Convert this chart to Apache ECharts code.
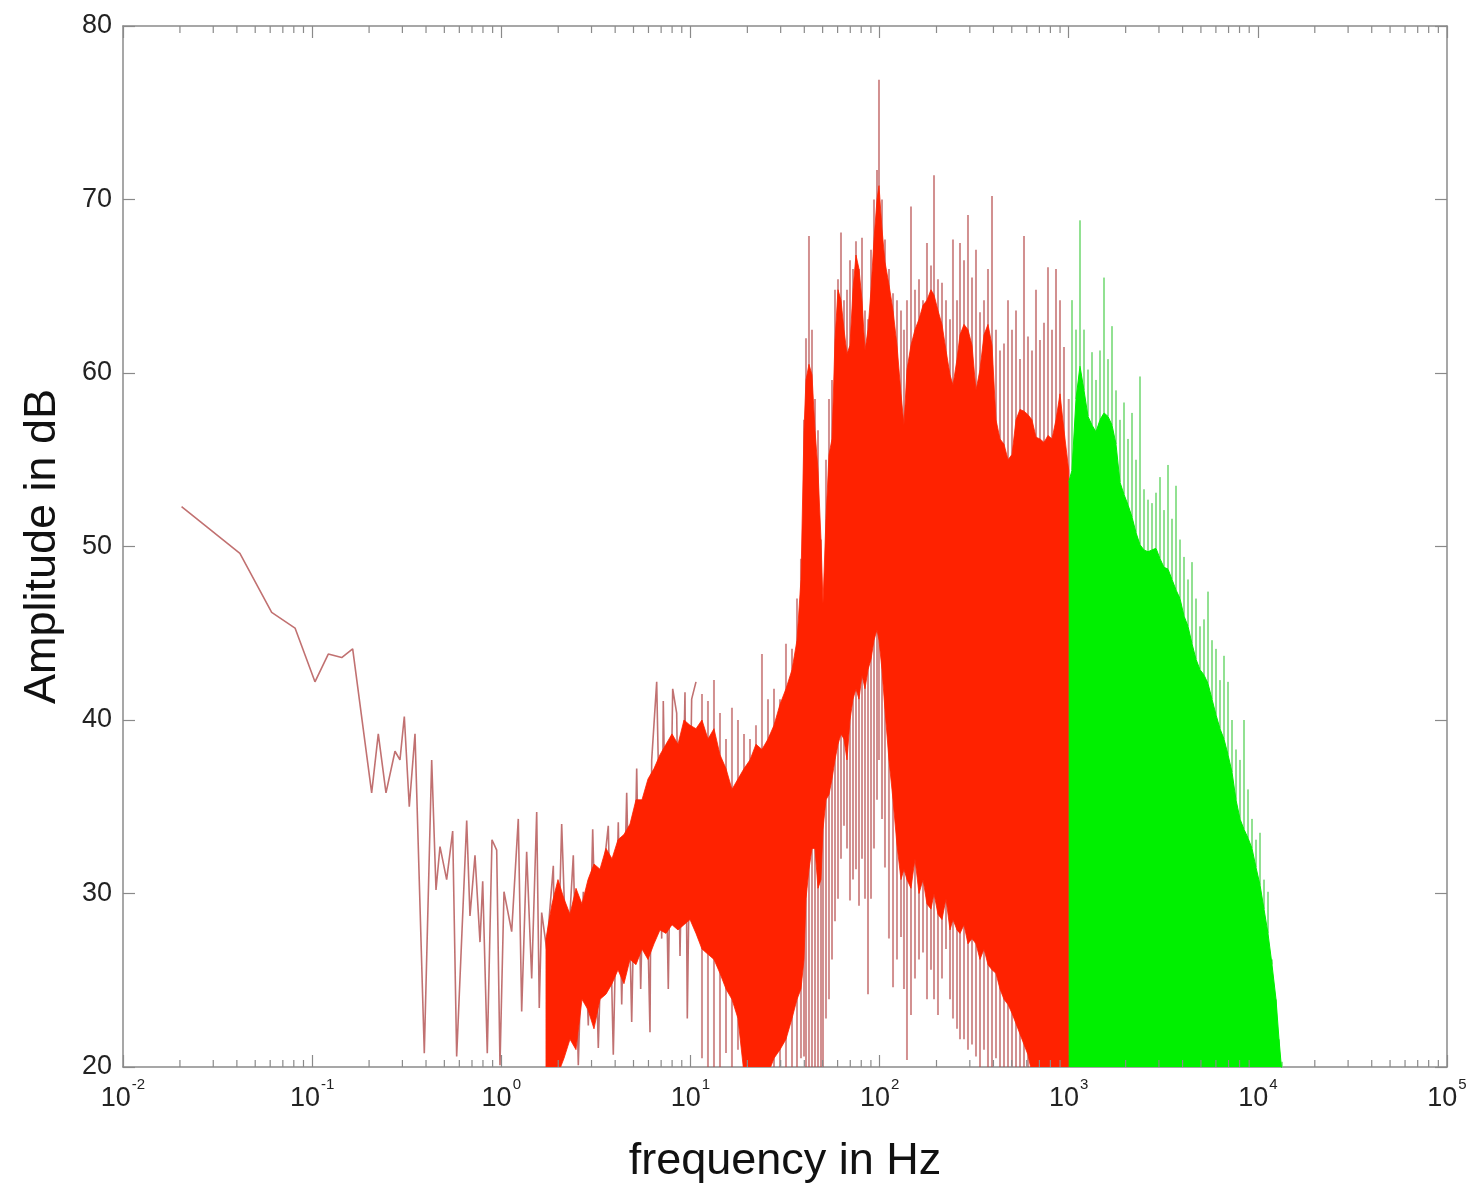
<!DOCTYPE html>
<html><head><meta charset="utf-8">
<script src="https://cdn.jsdelivr.net/npm/echarts@6/dist/echarts.min.js"></script>
<style>html,body{margin:0;padding:0;background:#fff}#chart{width:1476px;height:1189px}</style>
</head><body><div id="chart"></div>
<script>
// ---- data (frequency in Hz, amplitude in dB) ----
const lowFreq = [0.0204,0.0415,0.0611,0.0812,0.1035,0.1217,0.1433,0.1638,0.2064,0.2237,0.2457,0.2742,0.2913,0.3071,0.3263,0.3498,0.3917,0.4286,0.4517,0.4742,0.5143,0.5534,0.5809,0.6564,0.6831,0.7261,0.7717,0.7975,0.8433,0.8929,0.9456,0.9843,1.0335,1.135,1.230,1.282,1.362,1.448,1.539,1.588,1.635,1.738,1.884,1.946,2.086,2.217,2.403,2.554,2.714,2.884,3.043,3.258,3.462,3.679,3.910,4.155,4.332,4.603,4.892,5.199,5.458,5.752,6.113,6.241,6.632,7.048,7.186,7.637,8.058,8.459,8.807,9.360,9.626,10.15,10.70];
const lowDb = [52.3,49.6,46.2,45.3,42.2,43.8,43.6,44.1,35.8,39.2,35.8,38.2,37.7,40.2,35.0,39.2,20.8,37.7,30.2,32.7,30.8,33.6,20.6,34.2,28.7,32.2,27.2,30.7,20.8,33.1,32.5,20.1,30.1,27.8,34.3,23.2,32.4,25.1,34.7,23.4,28.9,26.8,31.6,21.4,34.0,25.5,32.2,20.1,30.1,22.4,33.7,21.1,31.2,33.9,20.7,34.1,23.6,35.8,22.6,37.2,24.5,35.5,22.0,37.7,42.2,27.4,41.1,24.5,41.8,40.4,26.4,41.6,22.8,41.2,42.2];

const coreFreq = [1.723,1.854,1.994,2.145,2.308,2.483,2.671,2.874,3.091,3.325,3.578,3.849,4.140,4.453,4.791,5.155,5.545,5.965,6.417,6.904,7.427,7.989,8.594,9.247,9.947,10.70,
11.51,12.38,13.32,14.33,15.42,16.58,17.84,19.20,20.65,22.21,23.89,25.71,27.66,29.75,32.00,34.44,36.59,
38.41,39.85,40.83,42.34,43.92,45.56,47.25,49.01,50.22,52.08,54.02,56.04,58.12,60.28,62.52,64.85,67.27,69.76,72.36,75.04,77.85,80.74,83.73,86.86,90.10,93.43,96.92,99.29,
103.0,106.8,112.1,117.8,123.6,129.8,134.6,139.6,146.6,153.9,161.6,169.7,178.1,187.0,194.0,203.6,213.8,224.5,235.7,244.4,256.7,266.2,279.5,293.4,308.1,323.4,339.6,356.5,374.3,393.0,412.6,433.2,454.8,477.5,501.3,526.4,552.6,580.2,609.1,639.5,671.4,704.9,740.1,777.0,815.9,856.6,899.2,944.1,1000];
const coreTop = [27.4,29.4,30.8,29.7,28.8,30.3,29.4,30.8,31.7,31.4,32.6,32.0,33.1,33.4,34.0,35.4,35.4,36.6,37.2,38.0,38.6,39.2,38.6,40.0,39.7,39.5,
40.0,38.9,39.5,38.0,37.2,36.0,36.6,37.2,37.7,38.6,38.3,38.9,39.7,40.9,41.8,42.9,44.6,
48.1,56.7,59.6,60.5,59.9,56.7,54.4,50.4,46.7,51.6,55.3,56.2,61.9,64.8,64.2,62.5,61.1,61.6,64.8,66.8,66.0,64.2,61.3,62.5,64.8,67.7,70.0,70.8,
68.3,66.4,65.1,63.6,61.6,58.8,57.0,60.2,61.6,62.5,63.1,63.9,64.2,64.8,64.5,63.6,62.8,61.3,59.9,59.3,60.8,62.2,62.8,62.5,61.6,59.0,60.2,62.2,62.8,61.6,57.3,56.2,55.9,55.0,55.3,57.3,57.9,57.8,57.6,57.3,56.3,56.2,56.0,56.4,56.2,57.3,58.8,56.7,54.4];
const coreBottom = [19.6,19.6,19.6,20.5,21.6,21.0,23.9,23.3,22.2,23.9,24.2,24.8,25.6,24.8,26.2,25.9,26.8,26.2,27.1,27.9,27.7,28.2,27.9,28.2,28.5,27.7,
26.8,26.5,26.2,25.4,24.5,23.9,22.8,19.6,19.6,19.6,19.6,19.6,20.5,21.0,21.6,22.8,23.9,
24.5,26.2,29.7,31.4,32.6,32.6,30.3,30.8,33.7,35.4,35.7,36.6,37.7,38.6,39.2,38.9,37.7,40.0,41.2,41.8,41.2,42.6,41.8,42.9,43.5,44.6,45.2,44.6,
42.9,40.6,37.7,35.4,32.8,30.8,31.4,30.8,30.3,32.0,30.0,30.8,29.4,29.1,30.0,28.8,28.5,29.7,27.9,28.5,27.9,27.7,28.2,27.1,27.4,27.1,26.2,26.8,25.9,25.6,25.4,24.5,23.9,23.6,23.1,22.5,21.9,21.3,20.7,19.6,19.6,19.6,19.6,19.6,19.6,19.6,19.6,19.6,19.6];

const spikeFreq = [11.51,12.38,13.32,14.33,15.42,16.58,17.84,19.20,20.65,22.21,23.89,25.71,27.66,29.75,32.00,34.44,36.59,
38.41,39.85,40.83,42.34,43.92,45.56,47.25,49.01,50.22,52.08,54.02,56.04,58.12,60.28,62.52,64.85,67.27,69.76,72.36,75.04,77.85,80.74,83.73,86.86,90.10,93.43,96.92,99.29,
103.0,106.8,112.1,117.8,123.6,129.8,134.6,139.6,146.6,153.9,161.6,169.7,178.1,187.0,194.0,203.6,213.8,224.5,235.7,244.4,256.7,266.2,279.5,293.4,308.1,323.4,339.6,356.5,374.3,393.0,412.6,433.2,454.8,477.5,501.3,526.4,552.6,580.2,609.1,639.5,671.4,704.9,740.1,777.0,815.9,856.6,899.2,944.1,1000];
const spikeHigh = [41.5,41.1,42.3,40.4,38.9,40.7,40.0,39.2,38.9,39.7,43.8,41.2,41.8,41.2,44.4,44.1,47.0,
49.3,57.3,62.0,67.9,62.5,58.5,56.7,50.4,46.7,55.0,58.5,59.6,64.8,65.4,68.1,64.2,64.8,66.5,66.0,67.6,66.0,67.8,63.6,63.1,67.1,70.0,71.7,76.9,
70.0,67.7,66.0,64.6,64.2,63.6,62.5,64.2,69.6,64.8,65.4,64.2,67.5,66.2,71.4,65.4,65.2,64.2,63.1,67.7,64.2,67.5,66.5,69.1,65.5,67.1,63.5,64.2,66.0,70.2,62.5,61.3,61.7,64.2,62.5,63.6,60.8,67.9,62.1,61.3,64.8,61.9,62.9,66.1,62.5,66.0,64.2,61.5,58.5];
const spikeLow = [20.5,19.8,19.8,19.8,20.8,19.8,21.0,19.8,19.8,19.8,19.8,19.8,19.8,19.8,19.8,19.8,19.8,
20.5,20.6,19.8,19.8,19.8,19.8,19.8,19.8,19.8,22.8,23.9,26.2,28.4,29.7,32.0,33.9,32.6,29.6,30.8,31.4,29.3,32.0,29.7,24.2,29.7,32.6,35.4,37.7,
34.3,31.5,27.4,24.6,26.2,27.5,24.5,20.4,23.0,25.1,26.2,26.6,23.9,25.6,23.9,23.0,25.1,26.8,23.9,22.8,22.2,21.6,21.6,21.0,21.3,20.6,19.8,21.0,19.8,19.8,20.5,19.8,19.8,19.8,19.8,19.8,19.8,19.8,19.8,19.8,19.8,19.8,19.8,19.8,19.8,19.8,19.8,19.8,19.8];

const greenFreq = [1000,1040.7,1092.7,1147.2,1204.5,1264.5,1327.6,1393.9,1463.5,1536.6,1613.2,1693.6,1778.2,1867.0,1960.2,2057.9,2160.6,2268.5,2381.8,2500.5,2625.2,2756.1,2893.6,3038.0,3189.8,3348.9,3516.2,3691.6,3875.7,4069.1,4272.3,4485.6,4709.4,4944.3,5190.9,5450.1,5722.2,6007.4,6307.3,6621.9,6952.4,7299.2,7663.5,8046.0,8447.4,8868.8,9311.2,9776.4,10264,10776,11313,11878,12472,12935,13416];
const greenTop = [53.7,54.4,58.5,60.4,59.0,57.5,57.0,56.6,57.3,57.7,57.5,57.0,55.9,53.7,53.0,52.4,51.7,50.8,50.1,49.8,49.7,49.8,49.9,49.3,48.8,48.7,48.1,47.5,47.0,46.0,45.4,44.4,43.5,42.9,42.6,42.1,41.2,40.3,39.5,38.9,38.0,37.0,35.4,34.3,33.7,33.2,32.6,31.5,30.5,29.1,27.7,25.9,23.9,21.6,19.6];
const greenSpikeHigh = [null,64.2,62.5,68.8,62.5,60.2,61.2,59.6,61.3,65.5,60.8,62.7,59.0,57.3,58.3,56.2,57.7,55.0,59.8,53.3,52.7,52.5,53.1,54.0,52.1,54.7,51.6,53.5,50.4,49.4,48.1,49.1,47.0,45.4,45.8,47.4,44.6,44.1,42.3,43.7,42.2,40.0,38.3,37.7,40.0,36.0,34.3,33.1,33.5,30.8,30.1,26.2,22.2,20.3,20.3];

const xExtent = [0.01, 100000];
const yExtent = [20, 80];
const yInterval = 10;
const minorMultipliers = [2,3,4,5,6,7,8,9];

// ---- chart ----
const FONT = 'Liberation Sans, Arial, Helvetica, sans-serif';
const AXIS_COLOR = '#8a8a8a';
const minorTickFreq = [];
for (let e = -2; e <= 4; e++) minorMultipliers.forEach(m => minorTickFreq.push(m * Math.pow(10, e)));

const chart = echarts.init(document.getElementById('chart'), null, {renderer: 'canvas'});

function segment(p1, p2, stroke, w) {
  return {type: 'line', shape: {x1: p1[0], y1: p1[1], x2: p2[0], y2: p2[1]}, style: {stroke: stroke, lineWidth: w}};
}

const option = {
  backgroundColor: '#ffffff',
  animation: false,
  grid: {left: 123, right: 29, top: 26, bottom: 121, containLabel: false},
  xAxis: [{
    type: 'log', logBase: 10, min: xExtent[0], max: xExtent[1], splitNumber: 7,
    position: 'bottom',
    name: 'frequency in Hz', nameLocation: 'middle', nameGap: 72,
    nameTextStyle: {fontSize: 45, color: '#111', fontFamily: FONT},
    axisLine: {show: true, lineStyle: {color: AXIS_COLOR, width: 1.5}},
    axisTick: {show: true, inside: true, length: 12, lineStyle: {color: AXIS_COLOR, width: 1.2}},
    splitLine: {show: false},
    axisLabel: {
      margin: 10,
      formatter: v => '{b|10}{s|' + Math.round(Math.log10(v)) + '}',
      rich: {
        b: {fontSize: 27, color: '#222', fontFamily: FONT, padding: [8, 0, 0, 0]},
        s: {fontSize: 15, color: '#222', fontFamily: FONT, verticalAlign: 'top', padding: [0, 0, 0, 1]}
      }
    }
  }, {
    type: 'log', logBase: 10, min: xExtent[0], max: xExtent[1], splitNumber: 7,
    position: 'top',
    axisLine: {show: true, lineStyle: {color: AXIS_COLOR, width: 1.5}},
    axisTick: {show: true, inside: true, length: 12, lineStyle: {color: AXIS_COLOR, width: 1.2}},
    axisLabel: {show: false}, splitLine: {show: false}
  }],
  yAxis: [{
    type: 'value', min: yExtent[0], max: yExtent[1], interval: yInterval,
    position: 'left',
    name: 'Amplitude in dB', nameLocation: 'middle', nameGap: 58,
    nameTextStyle: {fontSize: 45, color: '#111', fontFamily: FONT},
    axisLine: {show: true, lineStyle: {color: AXIS_COLOR, width: 1.5}},
    axisTick: {show: true, inside: true, length: 12, lineStyle: {color: AXIS_COLOR, width: 1.2}},
    splitLine: {show: false},
    axisLabel: {fontSize: 27, color: '#222', fontFamily: FONT, margin: 11}
  }, {
    type: 'value', min: yExtent[0], max: yExtent[1], interval: yInterval,
    position: 'right',
    axisLine: {show: true, lineStyle: {color: AXIS_COLOR, width: 1.5}},
    axisTick: {show: true, inside: true, length: 12, lineStyle: {color: AXIS_COLOR, width: 1.2}},
    axisLabel: {show: false}, splitLine: {show: false}
  }],
  series: [
    { // minor log ticks (bottom and top)
      type: 'custom', name: 'minorTicks', silent: true, z: 5,
      data: minorTickFreq.map(f => [f, yExtent[0]]),
      encode: {x: 0, y: 1},
      renderItem: (params, api) => {
        const f = api.value(0);
        const b = api.coord([f, yExtent[0]]);
        const t = api.coord([f, yExtent[1]]);
        return {type: 'group', children: [
          segment(b, [b[0], b[1] - 7], AXIS_COLOR, 1.2),
          segment(t, [t[0], t[1] + 7], AXIS_COLOR, 1.2)
        ]};
      }
    },
    { // low-frequency trace
      type: 'line', name: 'low', z: 2, symbol: 'none', silent: true,
      data: lowFreq.map((f, i) => [f, lowDb[i]]),
      lineStyle: {color: 'rgba(178,78,78,0.8)', width: 1.6},
      clip: true
    },
    { // red spikes
      type: 'custom', name: 'redSpikes', z: 2, silent: true, clip: true,
      data: spikeFreq.map((f, i) => [f, spikeLow[i], spikeHigh[i]]),
      encode: {x: 0, y: [1, 2]},
      renderItem: (params, api) => {
        const f = api.value(0);
        return segment(api.coord([f, api.value(1)]), api.coord([f, api.value(2)]), 'rgba(180,70,70,0.6)', 2);
      }
    },
    { // red core
      type: 'custom', name: 'redCore', z: 3, silent: true, clip: true,
      data: coreFreq.map((f, i) => [f, coreBottom[i], coreTop[i]]),
      encode: {x: 0, y: [1, 2]},
      renderItem: (params, api) => {
        if (params.dataIndexInside !== 0) return null;
        const pts = [];
        for (let i = 0; i < coreFreq.length; i++) pts.push(api.coord([coreFreq[i], coreTop[i]]));
        for (let i = coreFreq.length - 1; i >= 0; i--) pts.push(api.coord([coreFreq[i], coreBottom[i]]));
        return {type: 'polygon', shape: {points: pts}, style: {fill: '#ff2200', stroke: '#ff2200', lineWidth: 0.8}};
      }
    },
    { // green spikes
      type: 'custom', name: 'greenSpikes', z: 2, silent: true, clip: true,
      data: greenFreq.map((f, i) => [f, greenTop[i], greenSpikeHigh[i]]).filter(d => d[2] != null),
      encode: {x: 0, y: [1, 2]},
      renderItem: (params, api) => {
        const f = api.value(0);
        return segment(api.coord([f, api.value(1)]), api.coord([f, api.value(2)]), 'rgba(110,215,110,0.75)', 2);
      }
    },
    { // green core
      type: 'line', name: 'greenCore', z: 3, symbol: 'none', silent: true,
      data: greenFreq.map((f, i) => [f, greenTop[i]]),
      lineStyle: {color: '#00ee00', width: 1},
      areaStyle: {color: '#00f000', opacity: 1, origin: 'start'},
      clip: true
    }
  ]
};
chart.setOption(option);
</script>
</body></html>
